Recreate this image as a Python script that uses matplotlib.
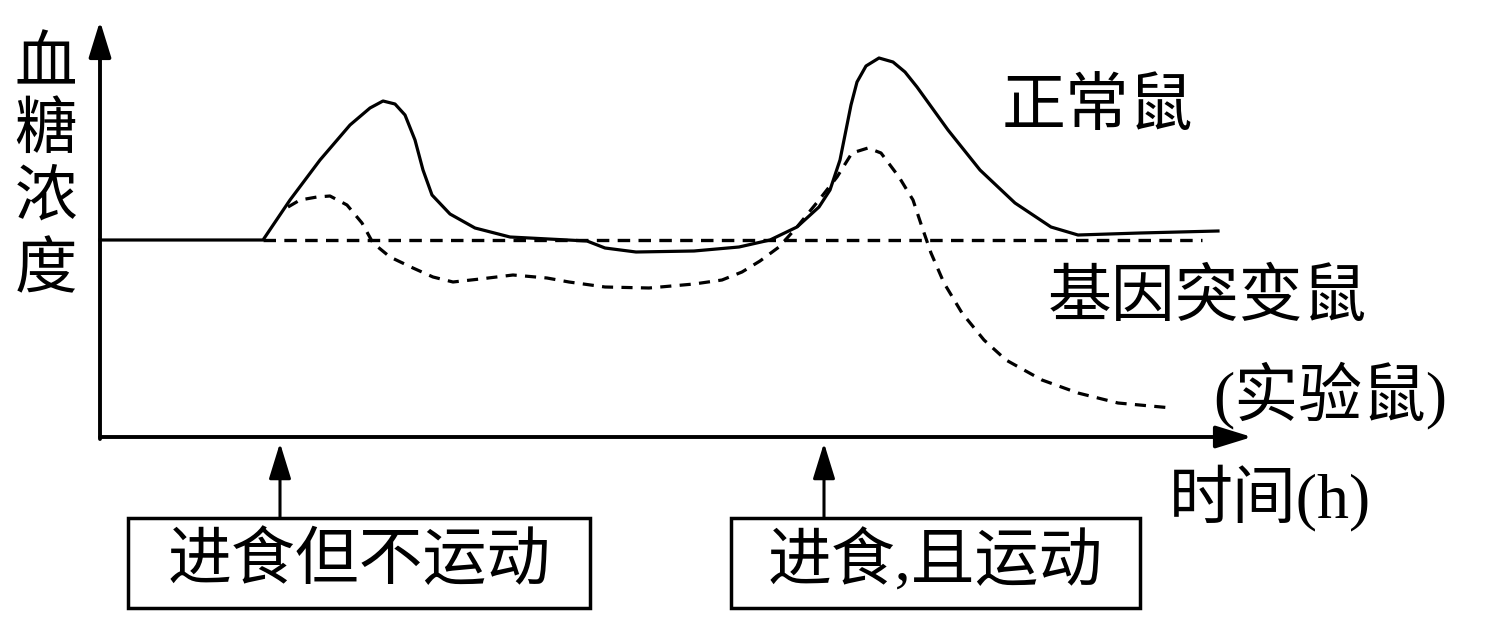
import matplotlib
matplotlib.use("Agg")
import matplotlib.pyplot as plt
from matplotlib.patches import Rectangle

plt.rcParams['font.family'] = ['Liberation Serif', 'Noto Sans CJK SC']
plt.rcParams['lines.scale_dashes'] = False

# time (h, arbitrary scale) and blood glucose (arbitrary units)
normal_t = [0.00, 1.63, 1.90, 2.20, 2.50, 2.70, 2.83, 2.95, 3.05, 3.15, 3.23, 3.32,
            3.50, 3.75, 4.10, 4.87, 5.05, 5.36, 5.94, 6.39, 6.70, 6.97, 7.19, 7.30,
            7.40, 7.46, 7.51, 7.57, 7.66, 7.79, 7.93, 8.05, 8.17, 8.48, 8.80, 9.15,
            9.51, 9.78, 10.40, 11.18]
normal_g = [1.97, 1.97, 2.37, 2.77, 3.12, 3.29, 3.36, 3.33, 3.22, 2.97, 2.67, 2.42,
            2.23, 2.09, 2.00, 1.96, 1.89, 1.85, 1.86, 1.90, 1.97, 2.10, 2.30, 2.47,
            2.77, 3.07, 3.32, 3.55, 3.71, 3.79, 3.75, 3.65, 3.50, 3.07, 2.67, 2.34,
            2.10, 2.02, 2.04, 2.06]

mutant_t = [1.88, 2.00, 2.17, 2.30, 2.47, 2.62, 2.73, 2.90, 3.13, 3.33, 3.53, 3.80,
            4.13, 4.47, 4.69, 5.05, 5.49, 5.94, 6.22, 6.42, 6.60, 6.79, 6.97, 7.19,
            7.37, 7.52, 7.68, 7.81, 7.99, 8.13, 8.22, 8.31, 8.44, 8.62, 8.84, 9.06,
            9.42, 9.78, 10.18, 10.72]
mutant_g = [2.30, 2.37, 2.40, 2.41, 2.32, 2.14, 1.94, 1.80, 1.69, 1.60, 1.55, 1.58,
            1.62, 1.59, 1.55, 1.50, 1.49, 1.53, 1.57, 1.65, 1.76, 1.90, 2.10, 2.37,
            2.60, 2.84, 2.89, 2.84, 2.60, 2.37, 2.10, 1.84, 1.54, 1.24, 0.97, 0.77,
            0.57, 0.44, 0.34, 0.29]

baseline_t = [1.63, 11.02]
baseline_g = [1.97, 1.97]

event_t = [1.80, 7.24]
event_labels = ["进食但不运动", "进食,且运动"]

# figure pixel (x, y) -> data units, origin of the chart at pixel (100, 437)
def px(x, y):
    return (x - 100) / 100, (437 - y) / 100

fig = plt.figure(figsize=(14.94, 6.17), dpi=100)
ax = fig.add_axes([0, 0, 1, 1])
ax.set_xlim(-1.0, 13.94)
ax.set_ylim(-1.80, 4.37)
ax.axis('off')

# axes with arrow heads
head = "-|>,head_length=1.1,head_width=0.34"
ax.annotate("", xy=(11.52, 0), xytext=(0, 0),
            arrowprops=dict(arrowstyle=head, lw=2.8, color='black',
                            mutation_scale=20, shrinkA=0, shrinkB=0))
ax.annotate("", xy=(0, 4.16), xytext=(0, -0.02),
            arrowprops=dict(arrowstyle=head, lw=2.8, color='black',
                            mutation_scale=20, shrinkA=0, shrinkB=0))

# curves
ax.plot(normal_t, normal_g, color='black', lw=2.3, solid_joinstyle='round')
ax.plot(baseline_t, baseline_g, color='black', lw=2.4, dashes=(9, 6))
ax.plot(mutant_t, mutant_g, color='black', lw=2.3, dashes=(8, 6))

# event arrows and boxes
box_left = [128, 731]
box_right = [590, 1140]
for t, label, l, r in zip(event_t, event_labels, box_left, box_right):
    ax.annotate("", xy=(t, -0.06), xytext=(t, -0.81),
                arrowprops=dict(arrowstyle=head, lw=2.2, color='black',
                                mutation_scale=20, shrinkA=0, shrinkB=0))
    x0, y0 = px(l, 608)
    x1, y1 = px(r, 518)
    ax.add_patch(Rectangle((x0, y0), x1 - x0, y1 - y0, fill=False,
                           lw=2.5, edgecolor='black'))
    ax.text((x0 + x1) / 2, (y0 + y1) / 2, label, fontsize=46,
            ha='center', va='center')

# y-axis label, one character per row
for ch, yc in zip("血糖浓度", [67, 133, 201, 273]):
    ax.text(*px(46, yc), ch, fontsize=45, ha='center', va='center')

ax.text(*px(1270, 498), "时间(h)", fontsize=46, ha='center', va='center')
ax.text(*px(1097, 110), "正常鼠", fontsize=46, ha='center', va='center')
ax.text(*px(1207, 300), "基因突变鼠", fontsize=46, ha='center', va='center')
ax.text(*px(1330, 396), "(实验鼠)", fontsize=46, ha='center', va='center')

fig.savefig("out.png", dpi=100)
